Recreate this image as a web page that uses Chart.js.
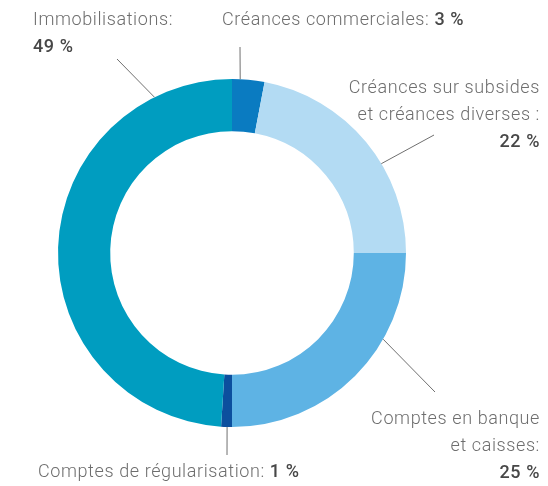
<!DOCTYPE html>
<html>
<head>
<meta charset="utf-8">
<script src="https://cdn.jsdelivr.net/npm/chart.js@4.4.0/dist/chart.umd.min.js"></script>
<style>
  html, body { margin: 0; padding: 0; background: #fff; }
  #wrap { width: 548px; height: 486px; position: relative; }
</style>
</head>
<body>
<div id="wrap"><canvas id="chartActif"></canvas></div>
<script>
// data
const categories = [
  'Créances commerciales',
  'Créances sur subsides et créances diverses',
  'Comptes en banque et caisses',
  'Comptes de régularisation',
  'Immobilisations'
];
const values = [3, 22, 25, 1, 49];
const colors = ['#0a7bc1', '#b3dbf3', '#5eb3e4', '#0c4f9e', '#009dc0'];

// label lines (text parts: [text, bold])
const labelLines = [
  [[['Créances commerciales: ', false], ['3 %', true]]],
  [[['Créances sur subsides', false]], [['et créances diverses :', false]], [['22 %', true]]],
  [[['Comptes en banque', false]], [['et caisses:', false]], [['25 %', true]]],
  [[['Comptes de régularisation: ', false], ['1 %', true]]],
  [[['Immobilisations:', false]], [['49 %', true]]]
];

// where the labels + leader lines go
const labelLayout = [
  { x: 222, y: 20, align: 'left', frac: 0.25, end: [240, 47] },
  { x: 540, y: 88, align: 'right', frac: 0.61, end: [434, 135] },
  { x: 540, y: 419, align: 'right', frac: 0.33, end: [435, 392] },
  { x: 38, y: 472, align: 'left', frac: 0.45, end: [227, 455] },
  { x: 33, y: 20, align: 'left', frac: 0.85, end: [117, 59] }
];

const fontFam = 'Roboto, "Noto Sans", sans-serif';
const fontSize = 18;
const lineGap = 27;

function setFont(ctx, bold) {
  ctx.font = (bold ? '500 ' : '300 ') + fontSize + 'px ' + fontFam;
  ctx.letterSpacing = '0.6px';
}

const labelPlugin = {
  id: 'labelPlugin',
  afterDraw(chart) {
    const ctx = chart.ctx;
    const arcs = chart.getDatasetMeta(0).data;
    ctx.save();
    arcs.forEach((arc, i) => {
      const lay = labelLayout[i];
      // leader line
      const a = arc.startAngle + (arc.endAngle - arc.startAngle) * lay.frac;
      const sx = arc.x + Math.cos(a) * arc.outerRadius;
      const sy = arc.y + Math.sin(a) * arc.outerRadius;
      ctx.strokeStyle = '#6f6f6f';
      ctx.lineWidth = 1;
      ctx.beginPath();
      ctx.moveTo(sx, sy);
      ctx.lineTo(lay.end[0], lay.end[1]);
      ctx.stroke();

      // text
      ctx.textBaseline = 'middle';
      labelLines[i].forEach((parts, k) => {
        const y = lay.y + k * lineGap;
        const widths = parts.map(p => {
          setFont(ctx, p[1]);
          return ctx.measureText(p[0]).width;
        });
        const total = widths.reduce((s, w) => s + w, 0);
        let x = lay.align === 'right' ? lay.x - total : lay.x;
        parts.forEach((p, j) => {
          setFont(ctx, p[1]);
          ctx.fillStyle = p[1] ? '#474747' : '#6e6e6e';
          ctx.textAlign = 'left';
          ctx.fillText(p[0], x, y);
          x += widths[j];
        });
      });
    });
    ctx.restore();
  }
};

const ctx = document.getElementById('chartActif').getContext('2d');
const chartActif = new Chart(ctx, {
  type: 'doughnut',
  data: {
    labels: categories,
    datasets: [{
      data: values,
      backgroundColor: colors,
      borderWidth: 0,
    }],
  },
  options: {
    responsive: true,
    maintainAspectRatio: false,
    animation: false,
    cutout: '70%',
    layout: { padding: { left: 58, right: 142, top: 79, bottom: 59 } },
    plugins: {
      legend: { display: false },
      tooltip: { enabled: false },
    },
  },
  plugins: [labelPlugin],
});
</script>
</body>
</html>
